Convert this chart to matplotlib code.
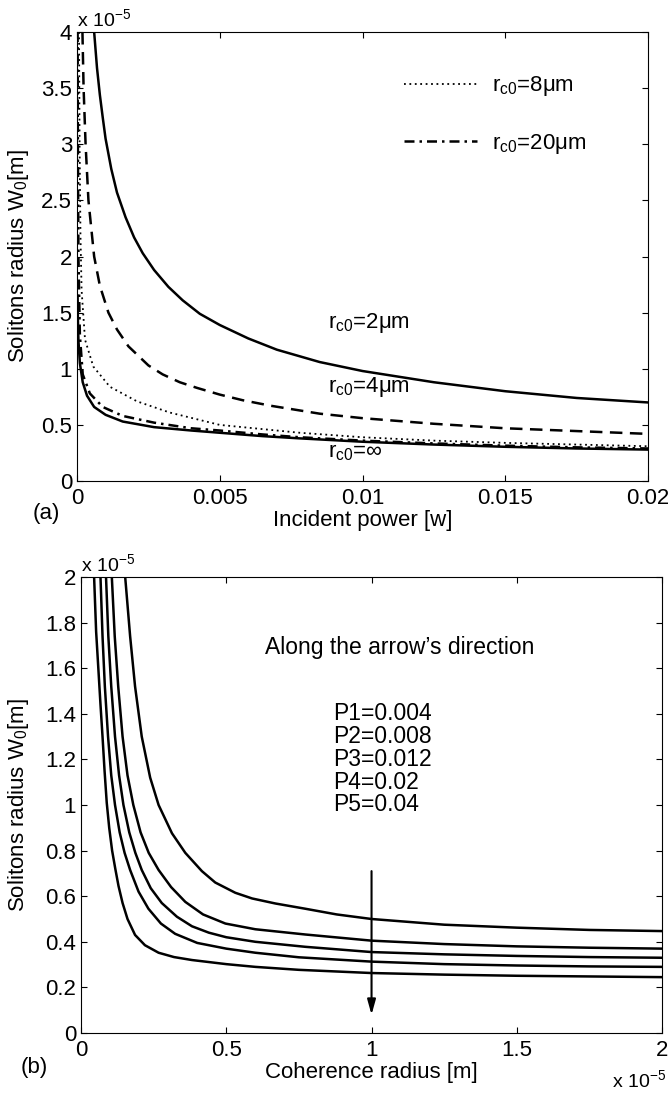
import matplotlib
matplotlib.use("Agg")
import matplotlib.pyplot as plt

plt.rcParams['font.family'] = ['Liberation Sans', 'DejaVu Sans']
plt.rcParams['mathtext.fontset'] = 'custom'
plt.rcParams['mathtext.rm'] = 'Liberation Sans'
plt.rcParams['mathtext.it'] = 'Liberation Sans'
plt.rcParams['mathtext.default'] = 'regular'

# ---- panel (a): soliton radius (x1e-5 m) vs incident power [w]
p_2um = [0.0006, 0.0007, 0.0008, 0.0009, 0.001, 0.0012, 0.0014, 0.0017, 0.002, 0.0023,
         0.0027, 0.0032, 0.0037, 0.0043, 0.005, 0.006, 0.007, 0.0085, 0.01, 0.0125,
         0.015, 0.0175, 0.02]
w_2um = [4.0, 3.68, 3.44, 3.24, 3.05, 2.78, 2.57, 2.35, 2.17, 2.03,
         1.88, 1.73, 1.61, 1.49, 1.39, 1.27, 1.17, 1.06, 0.98, 0.88,
         0.80, 0.74, 0.70]

p_4um = [0.00019, 0.00023, 0.0003, 0.0004, 0.0006, 0.0008, 0.0011, 0.0014, 0.0018,
         0.0025, 0.003, 0.0036, 0.0042, 0.005, 0.0058, 0.0068, 0.0085, 0.01, 0.0125,
         0.015, 0.0175, 0.02]
w_4um = [4.0, 3.5, 3.0, 2.5, 2.0, 1.74, 1.5, 1.35, 1.2,
         1.03, 0.95, 0.88, 0.83, 0.77, 0.72, 0.67, 0.60, 0.56, 0.51,
         0.47, 0.445, 0.42]

p_8um = [0.00007, 0.00009, 0.00012, 0.00016, 0.00028, 0.00057, 0.00115, 0.0021,
         0.00325, 0.005, 0.0078, 0.01, 0.0125, 0.015, 0.0175, 0.02]
w_8um = [4.0, 3.0, 2.2, 1.7, 1.26, 1.02, 0.84, 0.71,
         0.61, 0.50, 0.43, 0.39, 0.36, 0.34, 0.325, 0.31]

p_20um = [0.00002, 0.00003, 0.00005, 0.0001, 0.0002, 0.00045, 0.0009, 0.0016, 0.0027,
          0.004, 0.005, 0.0065, 0.0078, 0.01, 0.0125, 0.015, 0.0175, 0.02]
w_20um = [4.0, 3.0, 2.0, 1.3, 0.95, 0.78, 0.66, 0.58, 0.52,
          0.47, 0.45, 0.415, 0.39, 0.36, 0.335, 0.315, 0.30, 0.29]

p_inf = [0.00002, 0.00003, 0.00005, 0.0001, 0.0002, 0.00035, 0.0006, 0.001, 0.0016,
         0.0027, 0.004, 0.005, 0.0065, 0.0078, 0.01, 0.0125, 0.015, 0.0175, 0.02]
w_inf = [1.65, 1.45, 1.25, 1.05, 0.88, 0.76, 0.66, 0.59, 0.53,
         0.48, 0.45, 0.43, 0.40, 0.38, 0.35, 0.325, 0.305, 0.29, 0.28]

a_xticks = [0, 0.005, 0.01, 0.015, 0.02]
a_xlabels = ['0', '0.005', '0.01', '0.015', '0.02']
a_yticks = [0, 0.5, 1, 1.5, 2, 2.5, 3, 3.5, 4]
a_ylabels = ['0', '0.5', '1', '1.5', '2', '2.5', '3', '3.5', '4']

# ---- panel (b): soliton radius (x1e-5 m) vs coherence radius (x1e-5 m)
r_p1 = [0.152, 0.169, 0.186, 0.209, 0.238, 0.267, 0.313, 0.359, 0.416, 0.462, 0.531,
        0.589, 0.669, 0.772, 0.88, 1.0, 1.25, 1.5, 1.75, 2.0]
w_p1 = [2.0, 1.74, 1.52, 1.30, 1.12, 1.0, 0.876, 0.79, 0.71, 0.66, 0.615,
        0.59, 0.568, 0.545, 0.52, 0.50, 0.475, 0.462, 0.452, 0.447]

r_p2 = [0.106, 0.116, 0.128, 0.143, 0.16, 0.18, 0.205, 0.233, 0.267, 0.31, 0.359,
        0.42, 0.497, 0.6, 0.772, 1.0, 1.25, 1.5, 1.75, 2.0]
w_p2 = [2.0, 1.74, 1.52, 1.30, 1.13, 1.0, 0.88, 0.79, 0.715, 0.64, 0.575,
        0.52, 0.48, 0.455, 0.432, 0.405, 0.39, 0.38, 0.374, 0.37]

r_p3 = [0.086, 0.094, 0.104, 0.117, 0.131, 0.146, 0.166, 0.187, 0.209, 0.24, 0.278,
        0.33, 0.382, 0.44, 0.5, 0.6, 0.772, 1.0, 1.25, 1.5, 1.75, 2.0]
w_p3 = [2.0, 1.74, 1.52, 1.30, 1.13, 1.0, 0.88, 0.79, 0.715, 0.635, 0.57,
        0.51, 0.468, 0.44, 0.42, 0.40, 0.378, 0.355, 0.345, 0.338, 0.333, 0.33]

r_p4 = [0.067, 0.074, 0.082, 0.093, 0.104, 0.117, 0.133, 0.15, 0.169, 0.198, 0.232,
        0.275, 0.324, 0.4, 0.5, 0.6, 0.75, 1.0, 1.25, 1.5, 1.75, 2.0]
w_p4 = [2.0, 1.74, 1.52, 1.30, 1.13, 1.0, 0.88, 0.79, 0.715, 0.62, 0.545,
        0.48, 0.435, 0.395, 0.37, 0.352, 0.332, 0.313, 0.302, 0.296, 0.292, 0.29]

r_p5 = [0.045, 0.052, 0.06, 0.067, 0.074, 0.081, 0.0885, 0.097, 0.107, 0.118, 0.129,
        0.143, 0.16, 0.186, 0.22, 0.267, 0.32, 0.382, 0.5, 0.6, 0.75, 1.0, 1.25,
        1.5, 1.75, 2.0]
w_p5 = [2.0, 1.76, 1.59, 1.44, 1.30, 1.15, 1.01, 0.9, 0.8, 0.72, 0.645,
        0.57, 0.50, 0.43, 0.385, 0.352, 0.333, 0.32, 0.302, 0.29, 0.277, 0.263, 0.256,
        0.251, 0.248, 0.245]

p_labels = ['P1=0.004', 'P2=0.008', 'P3=0.012', 'P4=0.02', 'P5=0.04']

b_xticks = [0, 0.5, 1, 1.5, 2]
b_xlabels = ['0', '0.5', '1', '1.5', '2']
b_yticks = [0, 0.2, 0.4, 0.6, 0.8, 1, 1.2, 1.4, 1.6, 1.8, 2]
b_ylabels = ['0', '0.2', '0.4', '0.6', '0.8', '1', '1.2', '1.4', '1.6', '1.8', '2']

fs = 16
lw = 1.8

fig = plt.figure(figsize=(6.68, 10.93), dpi=100)

def style_axes(ax):
    ax.tick_params(direction='in', length=4, width=0.8, top=True, right=True,
                   labelsize=fs)
    ax.tick_params(axis='x', pad=5)
    ax.tick_params(axis='y', pad=3.5)
    for s in ax.spines.values():
        s.set_linewidth(0.8)

# ---------------- (a)
ax1 = fig.add_axes([0.1153, 0.5599, 0.8548, 0.4108])
ax1.plot(p_2um, w_2um, color='black', lw=lw)
ax1.plot(p_4um, w_4um, color='black', lw=lw, ls=(0, (5, 3)))
l8, = ax1.plot(p_8um, w_8um, color='black', lw=1.3, ls=(0, (1, 2)))
l20, = ax1.plot(p_20um, w_20um, color='black', lw=lw, ls=(0, (4, 2, 1, 2)))
ax1.plot(p_inf, w_inf, color='black', lw=lw)
ax1.set_xlim(0, 0.02)
ax1.set_ylim(0, 4)
ax1.set_xticks(a_xticks)
ax1.set_xticklabels(a_xlabels)
ax1.set_yticks(a_yticks)
ax1.set_yticklabels(a_ylabels)
style_axes(ax1)
ax1.set_xlabel('Incident power [w]', fontsize=fs, labelpad=1)
ax1.set_ylabel('Solitons radius W$_0$[m]', fontsize=fs, labelpad=7)
ax1.text(0.0, 1.005, 'x 10$^{-5}$', transform=ax1.transAxes, fontsize=14,
         ha='left', va='bottom')
ax1.text(0.0088, 1.36, 'r$_{c0}$=2μm', fontsize=fs)
ax1.text(0.0088, 0.79, 'r$_{c0}$=4μm', fontsize=fs)
ax1.text(0.0088, 0.21, 'r$_{c0}$=∞', fontsize=fs)
ax1.legend([l8, l20], ['r$_{c0}$=8μm', 'r$_{c0}$=20μm'], loc='upper left',
           bbox_to_anchor=(0.538, 0.95), frameon=False, fontsize=fs,
           handlelength=3.27, handletextpad=0.68, labelspacing=1.5)
fig.text(33 / 668, 1 - 513 / 1093, '(a)', fontsize=fs, ha='left', va='center')

# ---------------- (b)
ax2 = fig.add_axes([0.1213, 0.0549, 0.8698, 0.4172])
for r, w in [(r_p1, w_p1), (r_p2, w_p2), (r_p3, w_p3), (r_p4, w_p4), (r_p5, w_p5)]:
    ax2.plot(r, w, color='black', lw=lw)
ax2.annotate('', xy=(1.0, 0.08), xytext=(1.0, 0.71),
             arrowprops=dict(arrowstyle='-|>,head_length=0.9,head_width=0.25',
                             color='black', lw=1.5, shrinkA=0, shrinkB=0))
ax2.set_xlim(0, 2)
ax2.set_ylim(0, 2)
ax2.set_xticks(b_xticks)
ax2.set_xticklabels(b_xlabels)
ax2.set_yticks(b_yticks)
ax2.set_yticklabels(b_ylabels)
style_axes(ax2)
ax2.set_xlabel('Coherence radius [m]', fontsize=fs, labelpad=1)
ax2.set_ylabel('Solitons radius W$_0$[m]', fontsize=fs, labelpad=10)
ax2.text(0.0, 1.005, 'x 10$^{-5}$', transform=ax2.transAxes, fontsize=14,
         ha='left', va='bottom')
fig.text(666 / 668, 1 - 1091 / 1093, 'x 10$^{-5}$', fontsize=14,
         ha='right', va='bottom')
ax2.text(1.098, 1.69, "Along the arrow’s direction", fontsize=16.5, ha='center', va='center')
for i, lab in enumerate(p_labels):
    ax2.text(0.868, 1.40 - i * 0.1, lab, fontsize=16.5, ha='left', va='center')
fig.text(21 / 668, 1 - 1067 / 1093, '(b)', fontsize=fs, ha='left', va='center')

fig.savefig('out.png', dpi=100)
